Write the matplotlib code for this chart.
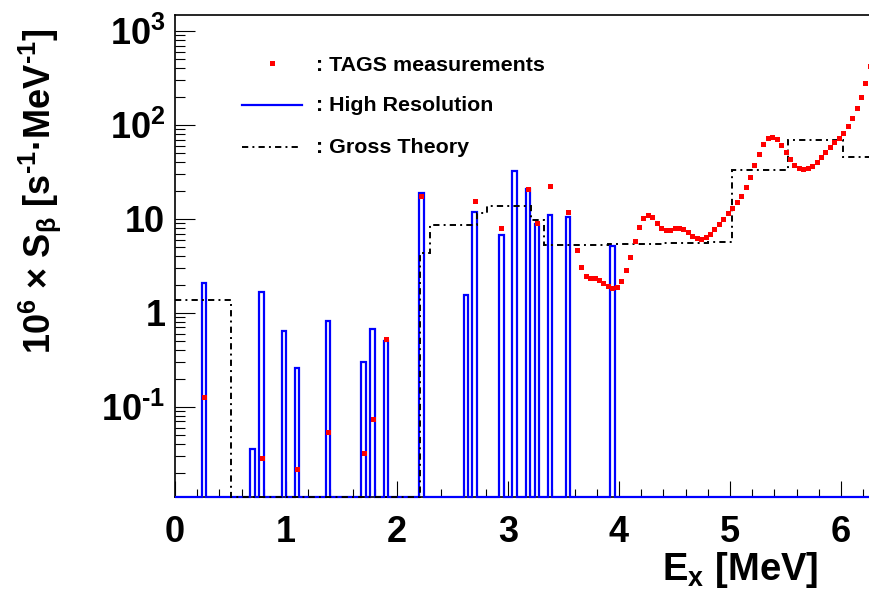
import matplotlib
matplotlib.use("Agg")
import matplotlib.pyplot as plt
from matplotlib.lines import Line2D
from matplotlib.ticker import FixedLocator, FixedFormatter, MultipleLocator, NullFormatter
import numpy as np

plt.rcParams['font.family'] = ['Liberation Sans', 'DejaVu Sans']
plt.rcParams['font.weight'] = 'bold'
plt.rcParams['mathtext.fontset'] = 'custom'
plt.rcParams['mathtext.rm'] = 'Liberation Sans:bold'
plt.rcParams['mathtext.bf'] = 'Liberation Sans:bold'
plt.rcParams['mathtext.it'] = 'Liberation Sans'
plt.rcParams['mathtext.default'] = 'rm'
plt.rcParams['lines.scale_dashes'] = False

# ---- High resolution strength (40 keV bins, bin centres in MeV) ----
hr_energy = [0.26, 0.70, 0.78, 0.98, 1.10, 1.38, 1.70, 1.78, 1.90, 2.22,
             2.62, 2.70, 2.94, 3.06, 3.18, 3.26, 3.38, 3.54, 3.94]
hr_strength = [2.1, 0.036, 1.66, 0.64, 0.26, 0.815, 0.30, 0.675, 0.507, 19.0,
               1.57, 11.9, 6.7, 32.6, 20.7, 8.85, 10.9, 10.6, 5.2]
bin_width = 0.04

# ---- TAGS measurements ----
tags_energy = [0.26, 0.78, 1.10, 1.38, 1.70, 1.78, 1.90, 2.22, 2.70, 2.94,
               3.18, 3.26, 3.38, 3.54,
               3.62, 3.66, 3.70, 3.74, 3.78, 3.82, 3.86, 3.90, 3.94, 3.98,
               4.02, 4.06, 4.10, 4.14, 4.18, 4.22, 4.26, 4.30, 4.34, 4.38,
               4.42, 4.46, 4.50, 4.54, 4.58, 4.62, 4.66, 4.70, 4.74, 4.78,
               4.82, 4.86, 4.90, 4.94, 4.98, 5.02, 5.06, 5.10, 5.14, 5.18,
               5.22, 5.26, 5.30, 5.34, 5.38, 5.42, 5.46, 5.50, 5.54, 5.58,
               5.62, 5.66, 5.70, 5.74, 5.78, 5.82, 5.86, 5.90, 5.94, 5.98,
               6.02, 6.06, 6.10, 6.14, 6.18, 6.22, 6.26]
tags_strength = [0.128, 0.0284, 0.0218, 0.054, 0.0327, 0.074, 0.533, 17.6, 15.4, 8.1,
                 20.8, 9.0, 22.4, 11.8,
                 4.68, 3.06, 2.49, 2.36, 2.34, 2.26, 2.09, 1.94, 1.86, 1.90,
                 2.21, 2.84, 3.94, 5.79, 8.15, 10.2, 11.0, 10.4, 9.0, 7.96,
                 7.58, 7.7, 7.96, 8.09, 7.83, 7.21, 6.65, 6.23, 6.08, 6.38,
                 6.98, 7.83, 8.78, 10.0, 11.5, 13.2, 15.0, 17.7, 22.1, 28.0,
                 37.3, 49.1, 62.3, 72.7, 75.1, 70.5, 60.8, 51.6, 43.5, 37.5,
                 34.6, 33.8, 35.2, 36.9, 40.7, 46.0, 52.0, 58.8, 65.9, 73.3,
                 82.8, 97.6, 120, 151, 197, 282, 427]

# ---- Gross theory (variable bins) ----
gt_edges = [0.0, 0.50, 2.21, 2.30, 2.72, 2.81, 3.21, 3.32, 3.90, 4.40, 4.80,
            5.02, 5.52, 6.02, 6.40]
gt_strength = [1.37, 0.0, 4.3, 8.6, 11.5, 13.8, 9.7, 5.3, 5.4, 5.55, 5.75,
               33.2, 69.0, 46.0]

x_ticks = [0, 1, 2, 3, 4, 5, 6]
y_ticks = [0.1, 1, 10, 100, 1000]
y_tick_labels = ['10$^{\u20101}$', '1', '10', '10$^{2}$', '10$^{3}$']

YMIN, YMAX = 0.011, 1480.0
XMIN, XMAX = 0.0, 6.252

W, H = 869, 607
fig = plt.figure(figsize=(W / 100, H / 100), dpi=100)
ax = fig.add_axes([175 / W, 1 - 497 / H, (W - 175) / W, (497 - 15) / H])
ax.set_yscale('log')
ax.set_xlim(XMIN, XMAX)
ax.set_ylim(YMIN, YMAX)

# high-resolution histogram on a regular 40 keV grid; empty bins sit on the floor
n_bins = int(round(6.4 / bin_width))
edges = np.arange(n_bins + 1) * bin_width
content = np.full(n_bins, YMIN)
for e, s in zip(hr_energy, hr_strength):
    content[int(e / bin_width)] = s
ax.stairs(content, edges, baseline=None, color='#0000ff', linewidth=1.6,
          zorder=2.6, clip_on=False)

# gross theory, dash-dot; empty bins also run along the floor
gt_plot = np.where(np.array(gt_strength) > 0, gt_strength, YMIN)
dashdot = (0, (4.5, 3.0, 1.4, 3.0))
ax.stairs(gt_plot, gt_edges, baseline=None, color='black', linewidth=1.4,
          linestyle=dashdot, zorder=2.7, clip_on=False)

# TAGS points
ax.plot(tags_energy, tags_strength, linestyle='none', marker='s', markersize=3.6,
        color='#ff0000', markeredgewidth=0, zorder=2.8, clip_on=False)

# axes decoration
ax.spines['right'].set_visible(False)
for sp in ('left', 'top', 'bottom'):
    ax.spines[sp].set_linewidth(1.2)

ax.xaxis.set_major_locator(FixedLocator(x_ticks))
ax.xaxis.set_major_formatter(FixedFormatter([str(t) for t in x_ticks]))
ax.xaxis.set_minor_locator(MultipleLocator(0.2))
ax.yaxis.set_major_locator(FixedLocator(y_ticks))
ax.yaxis.set_major_formatter(FixedFormatter(y_tick_labels))
minor_y = [m * 10.0 ** d for d in range(-2, 4) for m in range(2, 10)]
ax.yaxis.set_minor_locator(FixedLocator(minor_y))
ax.yaxis.set_minor_formatter(NullFormatter())

ax.tick_params(axis='x', which='major', direction='in', length=11.5, width=0.8,
               pad=13, labelsize=26, top=False)
ax.tick_params(axis='x', which='minor', direction='in', length=5.8, width=0.8, top=False)
ax.tick_params(axis='y', which='major', direction='in', length=14.4, width=0.8,
               pad=7, labelsize=26, right=False)
ax.tick_params(axis='y', which='minor', direction='in', length=7.2, width=0.8, right=False)
for lab in ax.get_xticklabels() + ax.get_yticklabels():
    lab.set_fontweight('bold')

# axis titles
fig.text(818 / W, 1 - 580 / H, r'E$_{\mathrm{x}}$ [MeV]', ha='right', va='baseline',
         fontsize=27.5, fontweight='bold')
fig.text(40 / W, 1 - 28 / H,
         '10$^{6}$ $\\times$ S$_{\\mathit{\\beta}}$ [s$^{\u20101}$\u00b7MeV$^{\u20101}$]',
         rotation=90, ha='center', va='top', fontsize=26, fontweight='bold')

# legend
def fx(px):
    return px / W

def fy(py):
    return 1 - py / H

fig.add_artist(Line2D([fx(271.7)], [fy(63.3)], marker='s', markersize=3.6,
                      color='#ff0000', markeredgewidth=0, linestyle='none',
                      transform=fig.transFigure))
fig.add_artist(Line2D([fx(241.7), fx(301.7)], [fy(105), fy(105)], color='#0000ff',
                      linewidth=1.6, transform=fig.transFigure))
fig.add_artist(Line2D([fx(241.7), fx(301.7)], [fy(147), fy(147)], color='black',
                      linewidth=1.4, linestyle=dashdot, transform=fig.transFigure))
leg_font = 15.4
fig.text(fx(316), fy(71), ': TAGS measurements', fontsize=leg_font, fontweight='bold',
         va='baseline', ha='left')
fig.text(fx(316), fy(110.7), ': High Resolution', fontsize=leg_font, fontweight='bold',
         va='baseline', ha='left')
fig.text(fx(316), fy(152.7), ': Gross Theory', fontsize=leg_font, fontweight='bold',
         va='baseline', ha='left')

fig.savefig('out.png', dpi=100)
